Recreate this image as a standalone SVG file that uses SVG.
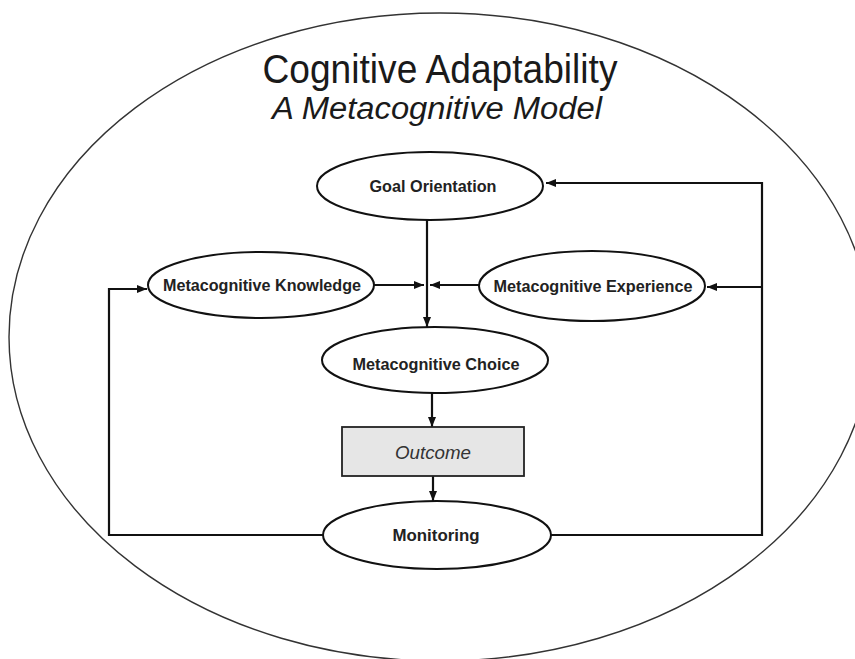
<svg xmlns="http://www.w3.org/2000/svg" width="855" height="659" viewBox="0 0 855 659">
  <style>
    .node { fill: #ffffff; stroke: #111111; stroke-width: 2; }
    .box { fill: #e6e6e6; stroke: #222222; stroke-width: 1.8; }
    .label { font-family: "Liberation Sans", Arial, sans-serif; font-weight: bold; font-size: 17px; fill: #222222; text-anchor: middle; }
    .title { font-family: "Liberation Sans", Arial, sans-serif; fill: #1a1a1a; text-anchor: middle; }
    .wire { fill: none; stroke: #111111; stroke-width: 2.2; }
  </style>
  <defs>
    <marker id="arrow" markerUnits="userSpaceOnUse" markerWidth="11" markerHeight="9" refX="10" refY="4.5" orient="auto">
      <path d="M0,0.5 L10,4.5 L0,8.5 Z" fill="#111111"/>
    </marker>
  </defs>

  <rect width="855" height="659" fill="#ffffff"/>

  <!-- outer boundary -->
  <ellipse cx="440" cy="337" rx="431" ry="324" fill="none" stroke="#333333" stroke-width="1.4"/>

  <!-- heading -->
  <text class="title" x="440" y="83" font-size="41" textLength="355" lengthAdjust="spacingAndGlyphs">Cognitive Adaptability</text>
  <text class="title" x="437" y="119" font-size="31" font-style="italic" textLength="330" lengthAdjust="spacingAndGlyphs">A Metacognitive Model</text>

  <!-- connectors -->
  <g id="connectors">
    <line class="wire" x1="427" y1="220" x2="427" y2="327" marker-end="url(#arrow)"/>
    <line class="wire" x1="373" y1="285" x2="424" y2="285" marker-end="url(#arrow)"/>
    <line class="wire" x1="479" y1="285" x2="430" y2="285" marker-end="url(#arrow)"/>
    <line class="wire" x1="432" y1="393" x2="432" y2="427" marker-end="url(#arrow)"/>
    <line class="wire" x1="433" y1="476" x2="433" y2="501" marker-end="url(#arrow)"/>
    <path class="wire" d="M551,535 H762 V183 H546" marker-end="url(#arrow)"/>
    <path class="wire" d="M762,287 H707" marker-end="url(#arrow)"/>
    <path class="wire" d="M323,535 H109 V289 H147" marker-end="url(#arrow)"/>
  </g>

  <g id="goal-orientation">
    <ellipse class="node" cx="430" cy="186" rx="113" ry="34"/>
    <text class="label" x="433" y="192" textLength="127" lengthAdjust="spacingAndGlyphs">Goal Orientation</text>
  </g>

  <g id="metacognitive-knowledge">
    <ellipse class="node" cx="261" cy="285" rx="113" ry="33"/>
    <text class="label" x="262" y="291" textLength="198" lengthAdjust="spacingAndGlyphs">Metacognitive Knowledge</text>
  </g>

  <g id="metacognitive-experience">
    <ellipse class="node" cx="592" cy="286" rx="113" ry="35"/>
    <text class="label" x="593" y="292" textLength="199" lengthAdjust="spacingAndGlyphs">Metacognitive Experience</text>
  </g>

  <g id="metacognitive-choice">
    <ellipse class="node" cx="435" cy="360" rx="113" ry="33"/>
    <text class="label" x="436" y="370" textLength="167" lengthAdjust="spacingAndGlyphs">Metacognitive Choice</text>
  </g>

  <g id="outcome">
    <rect class="box" x="342" y="427" width="182" height="49"/>
    <text x="433" y="459" font-family="Liberation Sans, Arial, sans-serif" font-style="italic" font-size="19" fill="#333333" text-anchor="middle" textLength="76" lengthAdjust="spacingAndGlyphs">Outcome</text>
  </g>

  <g id="monitoring">
    <ellipse class="node" cx="437" cy="535" rx="114" ry="34"/>
    <text class="label" x="436" y="541" textLength="87" lengthAdjust="spacingAndGlyphs">Monitoring</text>
  </g>
</svg>
